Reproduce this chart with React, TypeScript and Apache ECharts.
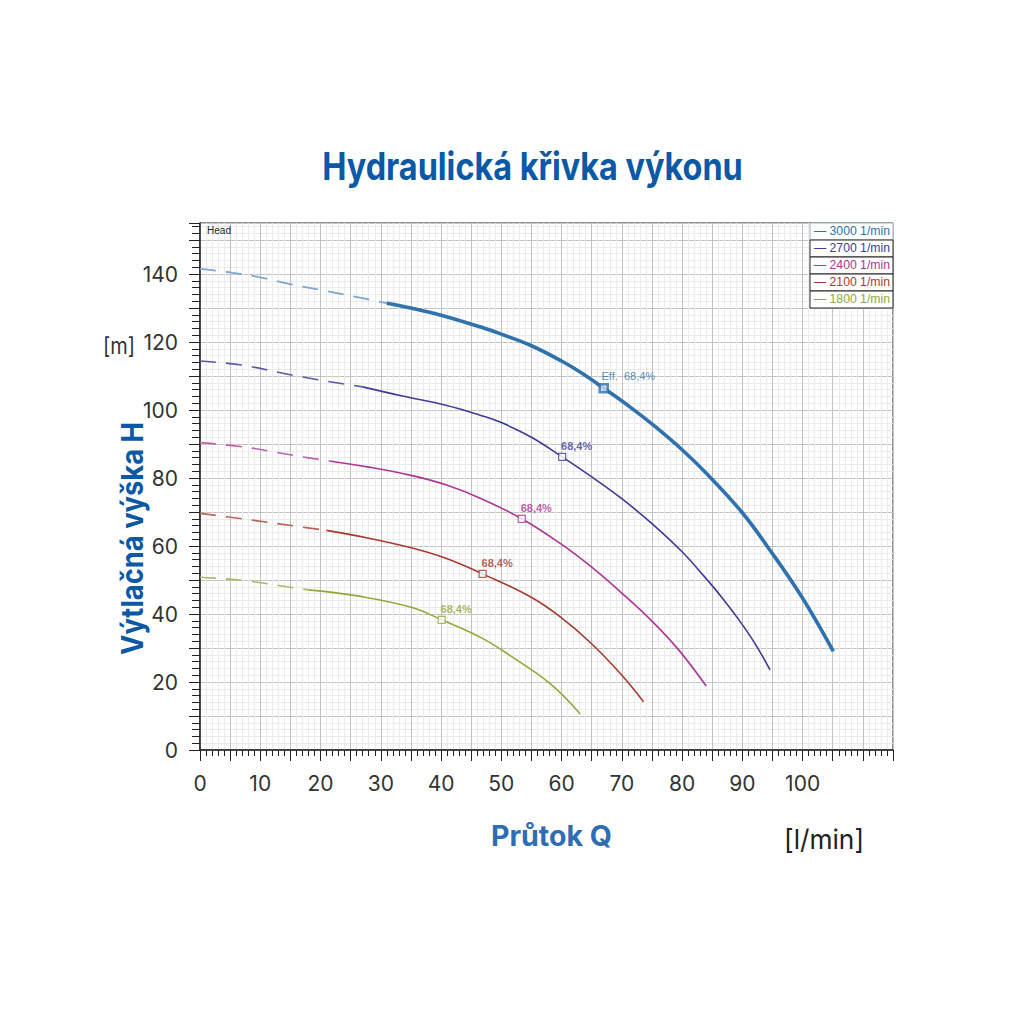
import { useEffect, useRef } from 'react'
import * as echarts from 'echarts'

// Pump curves: flow Q [l/min] vs head H [m]
const speeds = ['3000 1/min', '2700 1/min', '2400 1/min', '2100 1/min', '1800 1/min']

const q3000Dash = [0, 5, 10, 15, 20, 25, 31]
const h3000Dash = [141.5, 140.5, 139.0, 137.0, 135.3, 133.6, 131.4]
const q3000 = [31, 35, 40, 46.6, 50, 55, 60, 63.2, 67, 71.5, 75.4, 80, 84.3, 89.9, 94.3, 99.8, 105.1]
const h3000 = [131.4, 130.0, 127.9, 124.4, 122.3, 118.9, 114.4, 111.0, 106.4, 100.7, 95.3, 88.3, 80.9, 70.0, 59.5, 45.2, 29.0]

const q2700Dash = [0, 7, 16, 27]
const h2700Dash = [114.4, 113.2, 110.0, 106.8]
const q2700 = [27, 33.6, 40.8, 46.6, 50, 55, 60.1, 66, 70, 75, 80, 83.7, 86.5, 89.3, 92, 94.6]
const h2700 = [106.8, 104.1, 101.4, 98.4, 96.3, 92.0, 86.2, 79.1, 73.9, 66.6, 58.3, 51.0, 45.1, 38.6, 31.6, 23.6]

const q2400Dash = [0, 7, 16, 21.5]
const h2400Dash = [90.4, 89.2, 86.5, 85.0]
const q2400 = [21.5, 28, 35.2, 40.8, 46.6, 53.4, 59.9, 64.9, 69.9, 75, 79.5, 84]
const h2400 = [85.0, 83.2, 80.7, 78.0, 74.0, 68.0, 60.6, 53.9, 46.3, 37.9, 29.3, 18.8]

const q2100Dash = [0, 7, 16, 21]
const h2100Dash = [69.6, 68.0, 65.8, 64.6]
const q2100 = [21, 28, 35.2, 40.8, 46.9, 54.9, 59.9, 64.9, 69.9, 73.6]
const h2100 = [64.6, 62.3, 59.4, 56.4, 51.8, 45.0, 39.0, 31.4, 22.2, 14.2]

const q1800Dash = [0, 7, 16, 18]
const h1800Dash = [50.8, 49.9, 47.6, 47.1]
const q1800 = [18, 26.9, 35.2, 40.1, 46.8, 51.6, 58.2, 63.1]
const h1800 = [47.1, 45.1, 41.9, 38.3, 32.9, 27.6, 19.4, 10.6]

// best efficiency points
const qEff = [67.0, 60.1, 53.4, 46.9, 40.1]
const hEff = [106.4, 86.2, 68.0, 51.8, 38.3]
const effLabels = ['Eff.  68,4%', '68,4%', '68,4%', '68,4%', '68,4%']

const xTickLabels = [0, 10, 20, 30, 40, 50, 60, 70, 80, 90, 100]
const yTickLabels = [0, 20, 40, 60, 80, 100, 120, 140]

const colors = ['#2f72ad', '#3f3b96', '#b03597', '#a83a2e', '#90a83c']
const dashColors = ['#7fa7d0', '#5b58a8', '#c062ae', '#b8665c', '#a7bb66']

const NARROW = '"Liberation Sans Narrow", "Liberation Sans", Arial, sans-serif'

const zip = (xs: number[], ys: number[]) => xs.map((x, i) => [x, ys[i]])

// horizontal scale that makes a text fill a given width
function fit(text: string, font: string, width: number) {
  const ctx = document.createElement('canvas').getContext('2d')
  if (!ctx) return 1
  ctx.font = font
  return width / ctx.measureText(text).width
}

export default function App() {
  const chartRef = useRef<HTMLDivElement>(null)

  useEffect(() => {
    if (!chartRef.current) return
    const chart = echarts.init(chartRef.current, null, { renderer: 'svg' })

    const dashed = [
      zip(q3000Dash, h3000Dash),
      zip(q2700Dash, h2700Dash),
      zip(q2400Dash, h2400Dash),
      zip(q2100Dash, h2100Dash),
      zip(q1800Dash, h1800Dash)
    ]
    const solid = [
      zip(q3000, h3000),
      zip(q2700, h2700),
      zip(q2400, h2400),
      zip(q2100, h2100),
      zip(q1800, h1800)
    ]

    const series: any[] = []
    speeds.forEach((name, i) => {
      series.push({
        name: name + ' ext',
        type: 'line',
        data: dashed[i],
        showSymbol: false,
        smooth: 0.4,
        silent: true,
        lineStyle: { color: dashColors[i], width: i === 0 ? 1.8 : 1.6, type: [16, 10] },
        z: 3
      })
      series.push({
        name,
        type: 'line',
        data: solid[i],
        showSymbol: false,
        smooth: 0.4,
        lineStyle: { color: colors[i], width: i === 0 ? 3.6 : 1.6 },
        z: i === 0 ? 5 : 4
      })
      series.push({
        name: name + ' eff',
        type: 'scatter',
        data: [[qEff[i], hEff[i]]],
        symbol: 'rect',
        symbolSize: i === 0 ? 8 : 7,
        itemStyle: {
          color: i === 0 ? '#cfe0f2' : '#ffffff',
          borderColor: colors[i],
          borderWidth: i === 0 ? 2.5 : 1.2
        },
        label: {
          show: true,
          formatter: effLabels[i],
          position: [3, -12],
          fontFamily: 'Liberation Sans',
          fontSize: 11,
          fontWeight: i === 0 ? 'normal' : 'bold',
          color: colors[i]
        },
        z: 6
      })
    })

    const titleText = 'Hydraulická křivka výkonu'
    const titleFont = 'bold 38px Inter'
    const yName = 'Výtlačná výška H'
    const yNameFont = 'bold 30px Inter'
    const xName = 'Průtok Q'
    const xNameFont = 'bold 28px Inter'

    const legendItems = speeds.map((s, i) => {
      const label = '\u2014 ' + s
      return [
        {
          type: 'rect',
          shape: { x: 810, y: 223 + i * 17, width: 83, height: 17 },
          style: { fill: '#ffffff', stroke: i === 0 ? '#9fb0c2' : '#222222', lineWidth: 1 },
          z: 100
        },
        {
          type: 'text',
          x: 814,
          y: 231.5 + i * 17,
          scaleX: fit(label, '12px ' + NARROW, 76),
          style: {
            text: label,
            font: '12px ' + NARROW,
            fill: colors[i],
            textVerticalAlign: 'middle'
          },
          z: 101
        }
      ]
    }).flat()

    const option = {
      animation: false,
      backgroundColor: '#ffffff',
      grid: {
        left: 200,
        top: 223,
        width: 693,
        height: 527,
        show: true,
        borderColor: '#222222',
        borderWidth: 1,
        backgroundColor: '#ffffff'
      },
      xAxis: {
        type: 'value',
        min: 0,
        max: 115,
        interval: 5,
        axisLine: { show: true, onZero: false, lineStyle: { color: '#222222', width: 1.5 } },
        axisTick: { show: true, length: 11, lineStyle: { color: '#222222' } },
        minorTick: { show: true, splitNumber: 5, length: 6, lineStyle: { color: '#222222' } },
        splitLine: { show: true, lineStyle: { color: '#c2c2c2', width: 1 } },
        minorSplitLine: { show: true, lineStyle: { color: '#ebebeb', width: 1 } },
        axisLabel: {
          margin: 23,
          fontFamily: 'Inter',
          fontSize: 21,
          color: '#333333',
          formatter: (v: number) => (xTickLabels.includes(v) ? String(v) : '')
        }
      },
      yAxis: {
        type: 'value',
        min: 0,
        max: 155,
        interval: 10,
        axisLine: { show: true, lineStyle: { color: '#222222', width: 1.5 } },
        axisTick: { show: true, length: 11, lineStyle: { color: '#222222' } },
        minorTick: { show: true, splitNumber: 5, length: 8, lineStyle: { color: '#222222' } },
        splitLine: { show: true, lineStyle: { color: '#c2c2c2', width: 1 } },
        minorSplitLine: { show: true, lineStyle: { color: '#ebebeb', width: 1 } },
        axisLabel: {
          margin: 22,
          fontFamily: 'Inter',
          fontSize: 21,
          color: '#333333',
          formatter: (v: number) => (yTickLabels.includes(v) ? String(v) : '')
        }
      },
      series,
      graphic: [
        {
          type: 'text',
          x: 532.5,
          y: 167,
          scaleX: fit(titleText, titleFont, 421),
          style: {
            text: titleText,
            font: titleFont,
            fill: '#0b58a5',
            textAlign: 'center',
            textVerticalAlign: 'middle'
          }
        },
        {
          type: 'text',
          x: 132.5,
          y: 538.5,
          rotation: Math.PI / 2,
          scaleX: fit(yName, yNameFont, 233),
          style: {
            text: yName,
            font: yNameFont,
            fill: '#0b58a5',
            textAlign: 'center',
            textVerticalAlign: 'middle'
          }
        },
        {
          type: 'text',
          x: 119,
          y: 345,
          scaleX: fit('[m]', '23px Inter', 32),
          style: {
            text: '[m]',
            font: '23px Inter',
            fill: '#333333',
            textAlign: 'center',
            textVerticalAlign: 'middle'
          }
        },
        {
          type: 'text',
          x: 551.5,
          y: 836,
          scaleX: fit(xName, xNameFont, 121),
          style: {
            text: xName,
            font: xNameFont,
            fill: '#2f6db3',
            textAlign: 'center',
            textVerticalAlign: 'middle'
          }
        },
        {
          type: 'text',
          x: 824,
          y: 839,
          scaleX: fit('[l/min]', '27px Inter', 80),
          style: {
            text: '[l/min]',
            font: '27px Inter',
            fill: '#222222',
            textAlign: 'center',
            textVerticalAlign: 'middle'
          }
        },
        {
          type: 'text',
          x: 207,
          y: 229.5,
          scaleX: fit('Head', '11px ' + NARROW, 24),
          style: {
            text: 'Head',
            font: '11px ' + NARROW,
            fill: '#222222',
            textVerticalAlign: 'middle'
          },
          z: 100
        },
        ...legendItems
      ]
    }

    chart.setOption(option)

    return () => {
      chart.dispose()
    }
  }, [])

  return (
    <div
      ref={chartRef}
      style={{ position: 'fixed', left: 0, top: 0, width: 1024, height: 1024, background: '#ffffff' }}
    />
  )
}
